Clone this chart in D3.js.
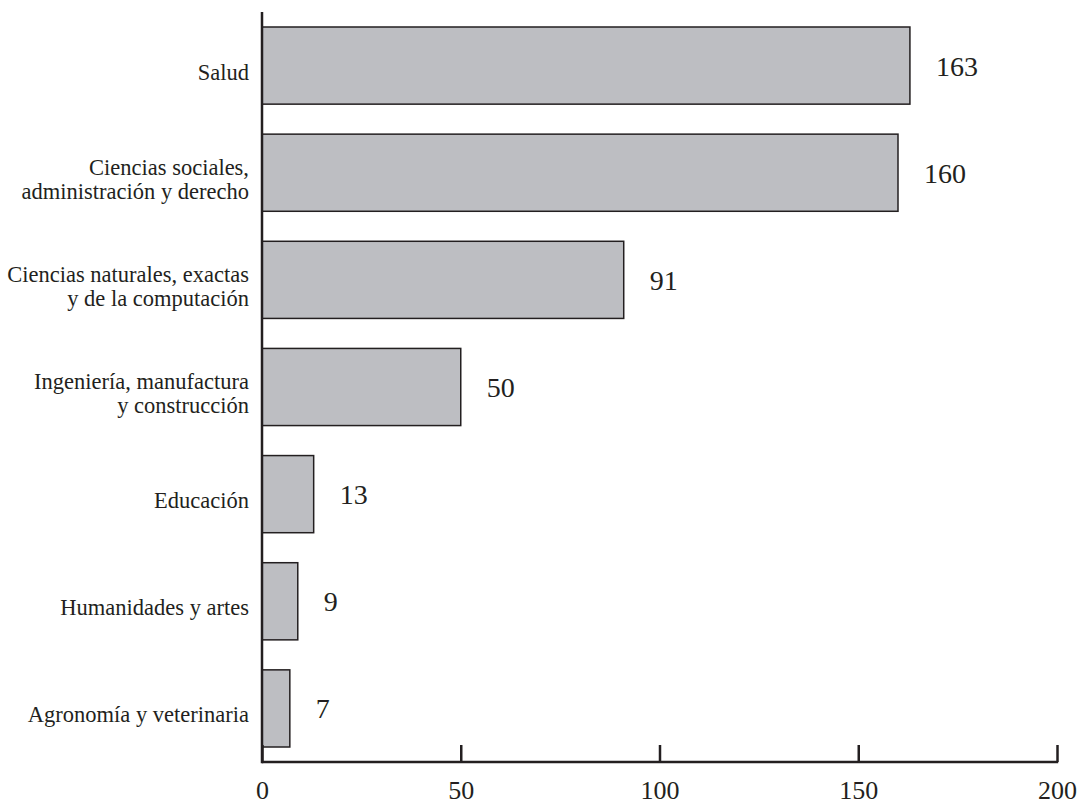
<!DOCTYPE html>
<html><head><meta charset="utf-8">
<script src="https://cdn.jsdelivr.net/npm/d3@7"></script>
<style>body{margin:0;background:#fff;} svg{display:block;}</style>
</head><body>
<svg id="chart" width="1082" height="806"></svg>
<script>
const categories = [
  ["Salud"],
  ["Ciencias sociales,", "administración y derecho"],
  ["Ciencias naturales, exactas", "y de la computación"],
  ["Ingeniería, manufactura", "y construcción"],
  ["Educación"],
  ["Humanidades y artes"],
  ["Agronomía y veterinaria"]
];
const values = [163, 160, 91, 50, 13, 9, 7];
const xTicks = [0, 50, 100, 150, 200];

const svg = d3.select("#chart");
const font = "'Liberation Serif', 'DejaVu Serif', serif";
const x0 = 262, x1 = 1057, yTop = 12, yBot = 762;

const x = d3.scaleLinear().domain([0, 200]).range([x0, x1]);
const keys = categories.map(c => c.join(" "));
const y = d3.scaleBand().domain(keys).range([yTop, yBot]).paddingInner(0.28).paddingOuter(0.14);

// bars
svg.selectAll("rect.bar").data(values).enter().append("rect")
  .attr("x", x(0))
  .attr("y", (d, i) => y(keys[i]))
  .attr("width", d => x(d) - x(0))
  .attr("height", y.bandwidth())
  .attr("fill", "#bdbec2")
  .attr("stroke", "#231f20")
  .attr("stroke-width", 1.5);

// value labels
svg.selectAll("text.val").data(values).enter().append("text")
  .attr("x", d => x(d) + 26)
  .attr("y", (d, i) => y(keys[i]) + y.bandwidth() / 2 + 10)
  .attr("font-family", font)
  .attr("font-size", 28)
  .attr("fill", "#231f20")
  .text(d => d);

// category labels
categories.forEach((lines, i) => {
  const cy = y(keys[i]) + y.bandwidth() / 2;
  const lh = 24;
  const t = svg.append("text")
    .attr("text-anchor", "end")
    .attr("font-family", font)
    .attr("font-size", 22.5)
    .attr("fill", "#231f20");
  lines.forEach((ln, j) => {
    t.append("tspan")
      .attr("x", 249)
      .attr("y", cy + 14 + (j - (lines.length - 1) / 2) * lh)
      .text(ln);
  });
});

// axes
const axisG = svg.append("g");
axisG.append("line").attr("x1", x0).attr("x2", x0).attr("y1", yTop).attr("y2", yBot + 1.2)
  .attr("stroke", "#231f20").attr("stroke-width", 2.5);
axisG.append("line").attr("x1", x0).attr("x2", x1 + 1.2).attr("y1", yBot).attr("y2", yBot)
  .attr("stroke", "#231f20").attr("stroke-width", 2.5);

const xAxis = d3.axisBottom(x).tickValues(xTicks).tickSize(0).tickPadding(0);
const gx = svg.append("g").attr("transform", `translate(0,${yBot})`).call(xAxis);
gx.select(".domain").remove();
gx.selectAll(".tick line").remove();
gx.selectAll(".tick").append("line")
  .attr("y1", 0).attr("y2", -17)
  .attr("stroke", "#231f20").attr("stroke-width", 2.5);
gx.selectAll(".tick text")
  .attr("y", 37).attr("dy", 0)
  .attr("font-family", font)
  .attr("font-size", 26)
  .attr("fill", "#231f20");
</script>
</body></html>
